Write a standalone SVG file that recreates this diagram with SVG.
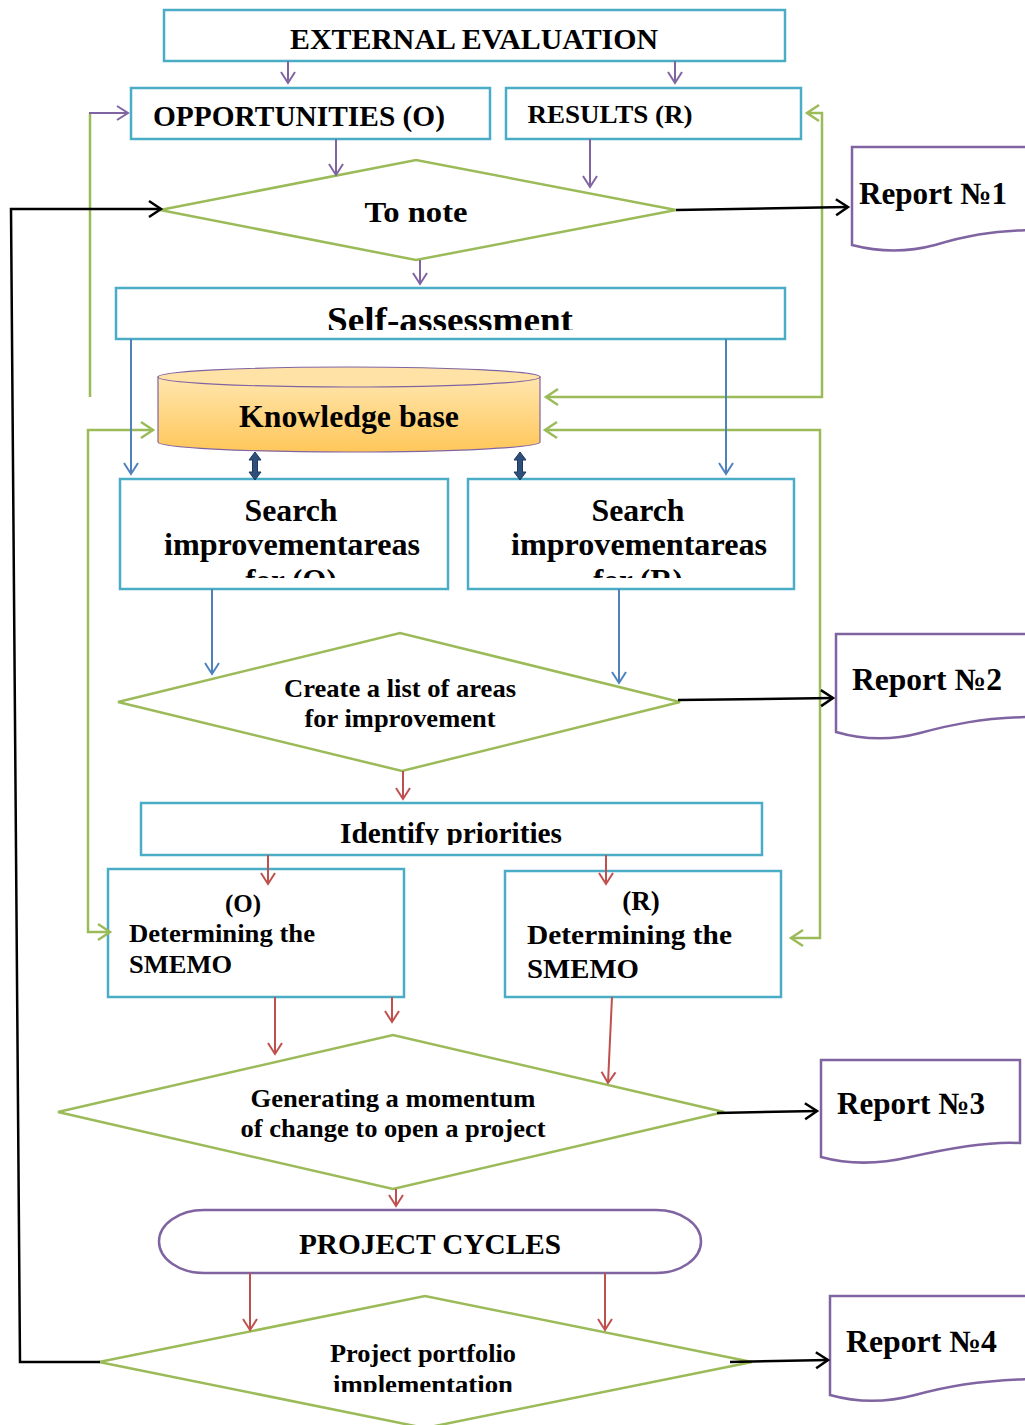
<svg xmlns="http://www.w3.org/2000/svg" width="1025" height="1425" viewBox="0 0 1025 1425">
<style>
text{font-family:"Liberation Serif","Times New Roman",serif;font-weight:bold;fill:#000;text-anchor:middle}
.st{text-anchor:start}
.box{fill:#fff;stroke:#4BACC6;stroke-width:2.5}
.dia{fill:#fff;stroke:#9BBB59;stroke-width:2.5}
.doc{fill:#fff;stroke:#8064A2;stroke-width:2.5}
.c{fill:none;stroke-width:2}
.pu{stroke:#8064A2;marker-end:url(#mP)}
.bl{stroke:#4F81BD;marker-end:url(#mB)}
.rd{stroke:#C0504D;marker-end:url(#mR)}
.gr{stroke:#9BBB59;stroke-width:2.5}
.bk{stroke:#000;stroke-width:2.5;marker-end:url(#mK)}
</style>
<defs>
<marker id="mP" markerUnits="userSpaceOnUse" markerWidth="14" markerHeight="16" refX="12" refY="8" orient="auto" overflow="visible"><path d="M1,1 L12,8 L1,15" fill="none" stroke="#8064A2" stroke-width="2"/></marker>
<marker id="mB" markerUnits="userSpaceOnUse" markerWidth="14" markerHeight="16" refX="12" refY="8" orient="auto" overflow="visible"><path d="M1,1 L12,8 L1,15" fill="none" stroke="#4F81BD" stroke-width="2"/></marker>
<marker id="mR" markerUnits="userSpaceOnUse" markerWidth="14" markerHeight="16" refX="12" refY="8" orient="auto" overflow="visible"><path d="M1,1 L12,8 L1,15" fill="none" stroke="#C0504D" stroke-width="2"/></marker>
<marker id="mG" markerUnits="userSpaceOnUse" markerWidth="16" markerHeight="18" refX="13" refY="9" orient="auto-start-reverse" overflow="visible"><path d="M1,1 L13,9 L1,17" fill="none" stroke="#9BBB59" stroke-width="2.5"/></marker>
<marker id="mK" markerUnits="userSpaceOnUse" markerWidth="16" markerHeight="18" refX="13" refY="9" orient="auto" overflow="visible"><path d="M1,1 L13,9 L1,17" fill="none" stroke="#000" stroke-width="2.5"/></marker>
<linearGradient id="kb" x1="0" y1="0" x2="0" y2="1"><stop offset="0" stop-color="#FFE6AE"/><stop offset="1" stop-color="#FFC75A"/></linearGradient>
<clipPath id="cSA"><rect x="117" y="289" width="667" height="41"/></clipPath>
<clipPath id="cS"><rect x="100" y="480" width="720" height="98"/></clipPath>
<clipPath id="cIP"><rect x="142" y="804" width="619" height="41"/></clipPath>
<clipPath id="cPP"><rect x="100" y="1300" width="650" height="92"/></clipPath>
</defs>

<g id="external-evaluation"><rect class="box" x="164" y="10" width="621" height="51"/><text x="474" y="49" font-size="30" textLength="368" lengthAdjust="spacingAndGlyphs">EXTERNAL EVALUATION</text></g>
<g id="opportunities"><rect class="box" x="131" y="88" width="359" height="51"/><text x="299" y="126" font-size="29" textLength="292" lengthAdjust="spacingAndGlyphs">OPPORTUNITIES (O)</text></g>
<g id="results"><rect class="box" x="506" y="88" width="295" height="51"/><text x="610" y="123" font-size="26" textLength="165" lengthAdjust="spacingAndGlyphs">RESULTS (R)</text></g>
<g id="to-note"><polygon class="dia" points="160,210 416,160 676,210 416,260"/><text x="416" y="222" font-size="30" textLength="103" lengthAdjust="spacingAndGlyphs">To note</text></g>
<g id="self-assessment"><rect class="box" x="116" y="288" width="669" height="51"/><text x="450" y="332" font-size="36" textLength="246" lengthAdjust="spacingAndGlyphs" clip-path="url(#cSA)">Self-assessment</text></g>
<g id="knowledge-base">
<path d="M158,377 V442 A191,10 0 0 0 540,442 V377 Z" fill="url(#kb)" stroke="#8064A2" stroke-width="1.2"/>
<ellipse cx="349" cy="377" rx="191" ry="10" fill="#FFE3A6" stroke="#8064A2" stroke-width="1.2"/>
<text x="349" y="427" font-size="31" textLength="220" lengthAdjust="spacingAndGlyphs">Knowledge base</text></g>
<g id="search-o"><rect class="box" x="120" y="479" width="328" height="110"/>
<g clip-path="url(#cS)"><text x="291" y="521" font-size="31" textLength="93" lengthAdjust="spacingAndGlyphs">Search</text><text x="292" y="555" font-size="31" textLength="256" lengthAdjust="spacingAndGlyphs">improvementareas</text><text x="291" y="591" font-size="31">for (O)</text></g></g>
<g id="search-r"><rect class="box" x="468" y="479" width="326" height="110"/>
<g clip-path="url(#cS)"><text x="638" y="521" font-size="31" textLength="93" lengthAdjust="spacingAndGlyphs">Search</text><text x="639" y="555" font-size="31" textLength="256" lengthAdjust="spacingAndGlyphs">improvementareas</text><text x="638" y="591" font-size="31">for (R)</text></g></g>
<g id="create-list"><polygon class="dia" points="118,702 400,633 680,702 402,771"/><text x="400" y="697" font-size="26" textLength="232" lengthAdjust="spacingAndGlyphs">Create a list of areas</text><text x="400" y="727" font-size="26" textLength="191" lengthAdjust="spacingAndGlyphs">for improvement</text></g>
<g id="identify-priorities"><rect class="box" x="141" y="803" width="621" height="52"/><text x="451" y="843" font-size="29" textLength="222" lengthAdjust="spacingAndGlyphs" clip-path="url(#cIP)">Identify priorities</text></g>
<g id="smemo-o"><rect class="box" x="108" y="869" width="296" height="128"/><text x="243" y="912" font-size="25">(O)</text><text class="st" x="129" y="942" font-size="25" textLength="186" lengthAdjust="spacingAndGlyphs">Determining the</text><text class="st" x="129" y="973" font-size="25" textLength="103" lengthAdjust="spacingAndGlyphs">SMEMO</text></g>
<g id="smemo-r"><rect class="box" x="505" y="871" width="276" height="126"/><text x="641" y="910" font-size="27">(R)</text><text class="st" x="527" y="944" font-size="28" textLength="205" lengthAdjust="spacingAndGlyphs">Determining the</text><text class="st" x="527" y="978" font-size="28" textLength="112" lengthAdjust="spacingAndGlyphs">SMEMO</text></g>
<g id="generating"><polygon class="dia" points="58,1112 393,1035 724,1112 393,1189"/><text x="393" y="1107" font-size="25" textLength="285" lengthAdjust="spacingAndGlyphs">Generating a momentum</text><text x="393" y="1137" font-size="25" textLength="305" lengthAdjust="spacingAndGlyphs">of change to open a project</text></g>
<g id="project-cycles"><rect x="159" y="1210" width="542" height="63" rx="45" ry="31.5" fill="#fff" stroke="#8064A2" stroke-width="2.5"/><text x="430" y="1254" font-size="29" textLength="262" lengthAdjust="spacingAndGlyphs">PROJECT CYCLES</text></g>
<g id="portfolio"><polygon class="dia" points="99,1362 425,1296 752,1362 425,1428"/><text x="423" y="1362" font-size="25" textLength="186" lengthAdjust="spacingAndGlyphs">Project portfolio</text><text x="423" y="1393" font-size="25" textLength="180" lengthAdjust="spacingAndGlyphs" clip-path="url(#cPP)">implementation</text></g>
<g id="report-1"><path class="doc" d="M1030,147 L852,147 L852,245 C875,251 905,253 935,245 C965,236 990,231 1030,230"/><text class="st" x="859" y="204" font-size="31" textLength="148" lengthAdjust="spacingAndGlyphs">Report №1</text></g>
<g id="report-2"><path class="doc" d="M1030,634 L836,634 L836,732 C860,739 890,741 920,733 C950,725 980,718 1030,717"/><text class="st" x="852" y="690" font-size="31" textLength="150" lengthAdjust="spacingAndGlyphs">Report №2</text></g>
<g id="report-3"><path class="doc" d="M821,1060 H1020 V1143 C990,1141 950,1148 910,1157 C880,1164 850,1165 821,1157 Z"/><text class="st" x="837" y="1114" font-size="31" textLength="148" lengthAdjust="spacingAndGlyphs">Report №3</text></g>
<g id="report-4"><path class="doc" d="M1030,1296 L830,1296 L830,1395 C855,1402 885,1403 915,1395 C950,1385 985,1380 1030,1379"/><text class="st" x="846" y="1352" font-size="31" textLength="151" lengthAdjust="spacingAndGlyphs">Report №4</text></g>

<g id="connectors">
<path class="c pu" d="M288,61 V83"/>
<path class="c pu" d="M675,61 V83"/>
<path class="c pu" d="M336,139 V175"/>
<path class="c pu" d="M590,139 V187"/>
<path class="c pu" d="M420,260 V284"/>
<path class="c gr" d="M90,397 V113"/>
<path class="c pu" d="M89,113 H128"/>
<path class="c gr" d="M807,113 H822 V397 H546" style="marker-start:url(#mG);marker-end:url(#mG)"/>
<path class="c gr" d="M153,430 H88 V932 H110" style="marker-start:url(#mG);marker-end:url(#mG)"/>
<path class="c gr" d="M545,430 H820 V938 H791" style="marker-start:url(#mG);marker-end:url(#mG)"/>
<path class="c bl" d="M131,339 V474"/>
<path class="c bl" d="M726,339 V474"/>
<path class="c bl" d="M212,589 V674"/>
<path class="c bl" d="M619,589 V683"/>
<g fill="#2E4F7A" stroke="#1F3864" stroke-width="1">
<polygon points="255,452 261,460 257.5,460 257.5,472 261,472 255,480 249,472 252.5,472 252.5,460 249,460"/>
<polygon points="520,452 526,460 522.5,460 522.5,472 526,472 520,480 514,472 517.5,472 517.5,460 514,460"/>
</g>
<path class="c rd" d="M403,771 V799"/>
<path class="c rd" d="M268,855 V884"/>
<path class="c rd" d="M606,855 V884"/>
<path class="c rd" d="M275,997 V1054"/>
<path class="c rd" d="M392,997 V1022"/>
<path class="c rd" d="M612,997 L608,1083"/>
<path class="c rd" d="M396,1189 V1206"/>
<path class="c rd" d="M250,1273 V1330"/>
<path class="c rd" d="M605,1273 V1330"/>
<path class="c bk" d="M676,210 L848,207"/>
<path class="c bk" d="M678,700 L833,698"/>
<path class="c bk" d="M717,1113 L817,1111"/>
<path class="c bk" d="M730,1362 L828,1360"/>
<path class="c bk" d="M100,1362 H20 L11,209 H161"/>
</g>
</svg>
